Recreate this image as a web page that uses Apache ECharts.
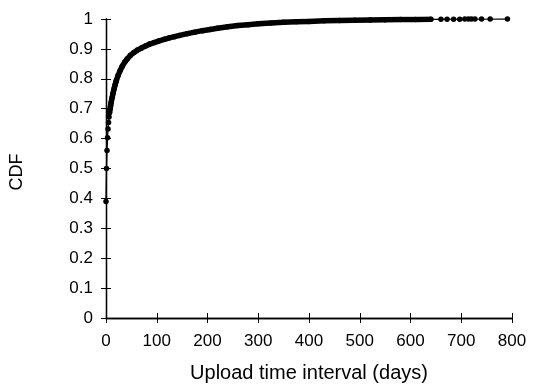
<!DOCTYPE html>
<html>
<head>
<meta charset="utf-8">
<script src="https://cdn.jsdelivr.net/npm/echarts@6/dist/echarts.min.js"></script>
<style>html,body{margin:0;padding:0;background:#fff;}#c{width:533px;height:385px;}</style>
</head>
<body>
<div id="c"></div>
<script>
// Upload time interval (days) and CDF values
const days = [0,1,2,3,4,5,6,7,8,9,10,12,14,16,18,20,24,28,32,37,42,48,55,62,70,78,86,95,105,115,125,135,145,160,175,190,205,220,240,260,280,300,325,350,375,400,430,460,490,520,550,580,610,640,660,672,685,697,707,714,720,727,740,757,791];
const cdf  = [0.39,0.50,0.56,0.603,0.632,0.654,0.672,0.687,0.699,0.71,0.72,0.737,0.752,0.767,0.780,0.792,0.812,0.828,0.842,0.856,0.867,0.878,0.888,0.896,0.903,0.91,0.916,0.921,0.927,0.932,0.937,0.941,0.945,0.951,0.956,0.961,0.965,0.969,0.974,0.978,0.981,0.984,0.987,0.989,0.991,0.992,0.994,0.995,0.996,0.997,0.9975,0.998,0.9985,0.999,0.9992,0.9993,0.9994,0.9995,0.9996,0.9997,0.9997,0.9998,0.9998,0.9999,1.0];
const xTicks = ['0','100','200','300','400','500','600','700','800'];
const yTicks = ['0','0.1','0.2','0.3','0.4','0.5','0.6','0.7','0.8','0.9','1'];

const pts = days.map((d, i) => [d, cdf[i]]);
const bandPts = pts.filter(p => p[0] >= 7 && p[0] <= 640);

const font = 'Liberation Sans, Arial, Helvetica, sans-serif';
const chart = echarts.init(document.getElementById('c'), null, {renderer: 'canvas'});
const lineC = '#000';
chart.setOption({
  animation: false,
  grid: {left: 106, right: 21, top: 19, bottom: 67, containLabel: false, outerBoundsMode: 'none'},
  xAxis: [{
    type: 'value', min: 0, max: 800, interval: 100, position: 'bottom',
    name: 'Upload time interval (days)', nameLocation: 'middle', nameGap: 45,
    nameTextStyle: {fontFamily: font, fontSize: 20, color: '#000'},
    axisLine: {show: true, lineStyle: {color: lineC, width: 1.3}},
    axisTick: {show: true, inside: true, length: 5, lineStyle: {color: lineC}},
    axisLabel: {fontFamily: font, fontSize: 17, color: '#000', margin: 15,
      formatter: v => xTicks[Math.round(v / 100)]},
    splitLine: {show: false}
  }, {
    type: 'value', min: 0, max: 800, interval: 100, position: 'top',
    axisLine: {show: true, lineStyle: {color: lineC, width: 1.3}},
    axisTick: {show: true, inside: true, length: 5, lineStyle: {color: lineC}},
    axisLabel: {show: false}, splitLine: {show: false}
  }],
  yAxis: [{
    type: 'value', min: 0, max: 1, interval: 0.1, position: 'left',
    name: 'CDF', nameLocation: 'middle', nameGap: 80, nameRotate: 90,
    nameTextStyle: {fontFamily: font, fontSize: 18, color: '#000', padding: [0, 0, 0, -7]},
    axisLine: {show: true, lineStyle: {color: lineC, width: 1.3}},
    axisTick: {show: true, inside: true, length: 5, lineStyle: {color: lineC}},
    axisLabel: {fontFamily: font, fontSize: 17, color: '#000', margin: 13,
      formatter: v => yTicks[Math.round(v * 10)]},
    splitLine: {show: false}
  }, {
    type: 'value', min: 0, max: 1, interval: 0.1, position: 'right',
    axisLine: {show: true, lineStyle: {color: lineC, width: 1.3}},
    axisTick: {show: true, inside: true, length: 5, lineStyle: {color: lineC}},
    axisLabel: {show: false}, splitLine: {show: false}
  }],
  series: [{
    type: 'line', data: bandPts, xAxisIndex: 0, yAxisIndex: 0,
    showSymbol: false, lineStyle: {color: '#000', width: 5.5, cap: 'round', join: 'round'},
    z: 2
  }, {
    type: 'line', data: pts, xAxisIndex: 0, yAxisIndex: 0,
    symbol: 'circle', symbolSize: 5.5, showAllSymbol: true,
    itemStyle: {color: '#000'},
    lineStyle: {color: '#000', width: 1.3},
    z: 3
  }]
});
</script>
</body>
</html>
